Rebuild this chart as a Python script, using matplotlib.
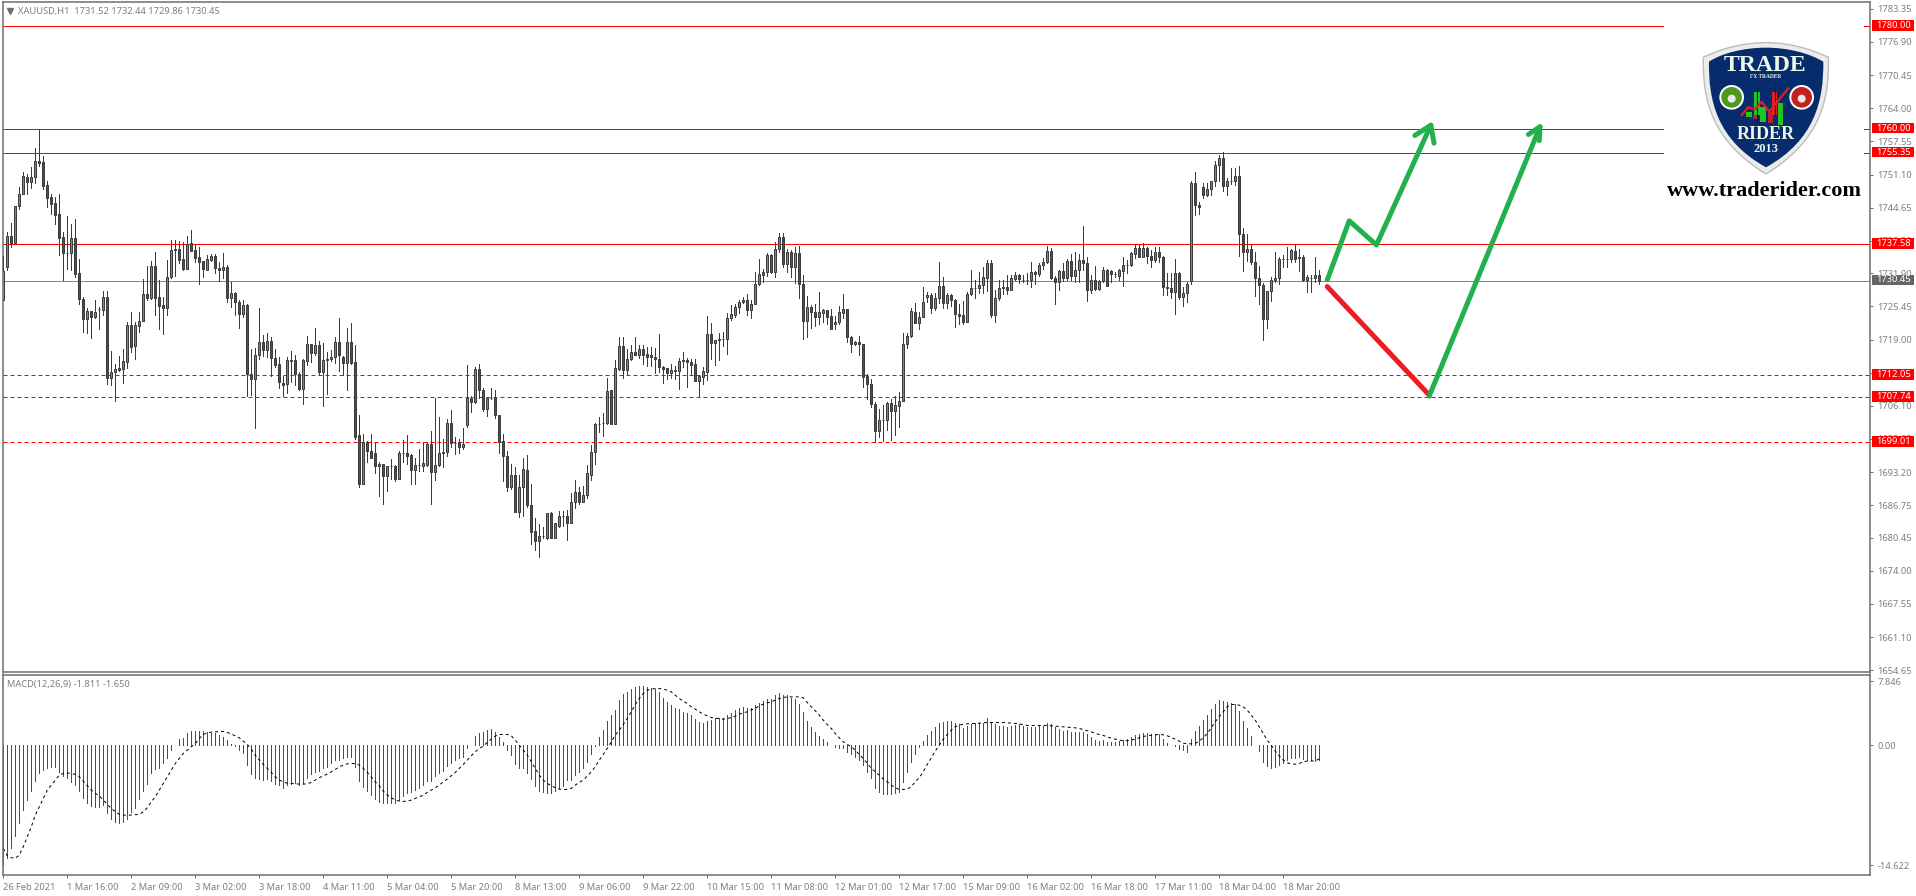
import numpy as np
import matplotlib
matplotlib.use('Agg')
import matplotlib.pyplot as plt
from matplotlib.path import Path
from matplotlib.patches import PathPatch, Rectangle, Circle
from matplotlib.transforms import IdentityTransform

plt.rcParams['font.family'] = ['Noto Sans', 'DejaVu Sans']

W, H = 1916, 896

opens = [
    1726.7,1733.2,1739.1,1737.8,1744.9,1747.4,1750.7,1749.7,1750.6,1753.7,
    1753.5,1749.0,1746.7,1745.5,1743.4,1738.9,1735.8,1735.8,1738.7,1731.9,
    1726.8,1722.9,1724.5,1723.4,1724.9,1724.8,1727.2,1711.6,1712.6,1713.4,
    1713.3,1714.7,1721.8,1717.8,1721.7,1722.7,1727.8,1727.1,1733.4,1727.2,
    1725.7,1725.2,1731.2,1736.7,1736.7,1734.6,1732.8,1737.8,1736.4,1735.0,
    1734.2,1732.6,1734.5,1735.2,1733.0,1732.5,1733.2,1727.1,1728.0,1726.4,
    1724.0,1725.8,1712.2,1711.4,1715.9,1718.5,1717.0,1718.8,1715.5,1714.2,
    1710.5,1710.3,1714.9,1715.1,1712.2,1709.4,1714.9,1718.1,1716.4,1717.9,
    1712.7,1715.1,1715.3,1715.7,1718.6,1715.7,1714.5,1718.6,1714.6,1700.4,
    1690.9,1699.0,1697.4,1697.0,1694.3,1694.7,1692.5,1694.3,1694.3,1691.9,
    1696.9,1696.9,1696.5,1693.7,1694.5,1694.4,1694.6,1698.6,1693.3,1694.5,
    1697.0,1697.2,1702.7,1698.9,1699.0,1698.0,1702.4,1707.7,1706.8,1713.2,
    1709.1,1705.5,1707.6,1707.6,1704.4,1699.2,1696.3,1690.4,1692.6,1685.5,
    1690.4,1693.7,1686.9,1681.7,1679.9,1680.7,1680.4,1685.2,1680.4,1682.8,
    1684.6,1684.6,1683.4,1687.4,1689.3,1687.4,1688.8,1692.7,1697.2,1702.6,
    1702.7,1702.7,1709.1,1702.6,1713.2,1717.7,1713.0,1715.3,1716.5,1716.0,
    1717.1,1716.2,1716.0,1715.7,1715.3,1713.6,1713.4,1712.4,1712.8,1712.8,
    1714.9,1715.1,1714.6,1714.2,1711.0,1711.8,1712.6,1720.0,1718.4,1718.9,
    1719.2,1719.2,1723.2,1723.8,1725.3,1726.7,1726.6,1724.8,1726.0,1729.9,
    1731.6,1732.1,1735.4,1732.2,1736.7,1738.9,1733.6,1736.0,1733.2,1735.8,
    1729.9,1722.7,1725.3,1724.3,1723.4,1724.2,1724.7,1723.6,1722.1,1722.4,
    1724.2,1724.9,1719.4,1718.2,1718.6,1718.1,1711.9,1710.3,1706.4,1701.3,
    1703.3,1703.3,1706.6,1705.0,1706.1,1707.0,1718.1,1719.7,1724.4,1722.3,
    1723.4,1727.2,1727.6,1725.2,1727.1,1729.4,1726.1,1727.6,1726.6,1723.9,
    1723.7,1722.5,1727.8,1729.0,1729.0,1729.7,1731.0,1733.9,1723.8,1727.1,
    1729.2,1729.2,1728.7,1730.8,1731.6,1730.6,1730.6,1730.5,1732.1,1731.7,
    1733.5,1734.0,1736.2,1731.0,1730.1,1732.3,1731.0,1734.2,1731.3,1732.5,
    1734.4,1733.8,1728.7,1730.5,1728.9,1730.3,1732.5,1732.3,1731.7,1731.4,
    1732.4,1733.5,1733.5,1735.7,1736.8,1735.1,1736.8,1735.2,1734.4,1736.0,
    1735.0,1729.3,1729.1,1728.2,1731.9,1727.2,1728.0,1730.3,1749.4,1745.1,
    1748.6,1747.2,1748.2,1749.8,1752.9,1754.3,1748.8,1749.8,1749.9,1750.8,
    1739.5,1736.1,1736.6,1734.0,1731.0,1729.6,1722.9,1728.4,1730.5,1730.9,
    1734.6,1734.6,1734.6,1736.2,1735.0,1735.0,1730.5,1731.0,1730.9,1731.52,
]
highs = [
    1735.2,1739.9,1741.6,1744.9,1748.6,1751.6,1751.2,1752.5,1756.3,1759.8,
    1754.7,1749.8,1747.4,1746.8,1747.4,1739.9,1743.0,1741.4,1742.4,1734.7,
    1727.3,1725.1,1724.5,1726.7,1725.3,1728.4,1728.4,1716.8,1714.2,1715.8,
    1717.2,1722.4,1724.3,1722.4,1724.3,1730.8,1733.3,1734.2,1736.0,1730.5,
    1727.3,1734.5,1738.3,1738.3,1738.1,1738.0,1739.1,1740.4,1737.5,1737.0,
    1734.2,1735.4,1735.6,1735.6,1734.0,1735.8,1733.5,1730.2,1728.2,1726.6,
    1726.6,1725.9,1717.2,1717.3,1725.1,1719.9,1720.2,1719.4,1717.2,1715.7,
    1711.9,1715.7,1716.7,1716.0,1712.7,1715.3,1719.7,1718.1,1721.2,1718.8,
    1718.3,1716.5,1717.0,1719.4,1723.1,1715.8,1721.2,1722.3,1717.9,1704.3,
    1700.7,1699.3,1700.6,1699.0,1695.1,1694.8,1694.4,1695.7,1694.5,1697.3,
    1699.4,1700.4,1696.7,1695.9,1697.7,1699.0,1699.0,1701.2,1707.7,1703.9,
    1699.6,1703.5,1705.3,1700.0,1699.6,1701.8,1714.0,1708.0,1713.6,1714.2,
    1709.6,1707.8,1709.6,1709.1,1704.4,1700.6,1697.4,1694.7,1694.2,1692.6,
    1695.9,1696.5,1690.8,1684.3,1683.1,1682.5,1685.2,1685.5,1683.4,1685.6,
    1685.6,1685.8,1689.1,1691.6,1690.4,1690.6,1694.5,1698.4,1702.7,1703.9,
    1704.8,1711.5,1709.1,1715.0,1719.5,1719.5,1717.1,1718.0,1719.5,1718.0,
    1718.0,1717.5,1717.5,1717.3,1720.0,1713.9,1713.5,1714.2,1713.9,1715.4,
    1716.5,1715.4,1715.3,1715.3,1712.1,1713.6,1723.6,1722.2,1719.0,1720.3,
    1720.4,1724.1,1725.8,1725.9,1726.7,1727.2,1727.9,1726.7,1732.1,1734.6,
    1732.8,1735.8,1735.6,1737.9,1739.7,1739.7,1736.6,1736.4,1737.0,1737.2,
    1731.6,1727.5,1725.7,1726.0,1728.2,1725.0,1724.8,1724.9,1723.6,1725.5,
    1727.9,1725.0,1719.7,1718.7,1719.7,1718.1,1712.3,1711.3,1706.9,1705.4,
    1706.2,1706.9,1707.4,1708.1,1708.8,1720.3,1720.3,1725.1,1726.2,1724.4,
    1729.2,1728.2,1728.0,1728.0,1734.1,1731.2,1728.0,1727.9,1726.8,1725.9,
    1726.5,1728.2,1732.6,1730.6,1732.1,1733.1,1734.4,1734.4,1728.7,1730.5,
    1730.5,1731.6,1731.5,1732.1,1731.7,1731.6,1731.9,1734.1,1732.3,1733.9,
    1734.8,1737.2,1736.8,1731.3,1732.5,1733.8,1734.6,1735.7,1736.0,1735.7,
    1741.1,1735.1,1731.5,1733.3,1730.5,1733.1,1732.7,1732.5,1732.1,1732.7,
    1735.0,1734.5,1736.0,1737.5,1737.5,1737.8,1737.0,1736.4,1737.0,1737.0,
    1735.2,1731.9,1731.9,1734.6,1732.1,1729.2,1730.1,1749.8,1751.6,1745.7,
    1749.4,1749.4,1749.8,1753.7,1754.9,1755.5,1750.4,1752.4,1752.4,1752.7,
    1740.7,1739.5,1737.4,1736.0,1733.3,1730.0,1728.4,1731.1,1736.0,1735.1,
    1735.4,1737.1,1736.6,1737.4,1736.7,1735.4,1731.5,1731.5,1735.1,1732.44,
]
lows = [
    1726.7,1732.5,1737.1,1737.8,1744.3,1747.3,1747.4,1748.5,1749.5,1752.8,
    1748.2,1744.8,1743.4,1741.5,1735.5,1730.6,1732.7,1732.5,1731.2,1725.9,
    1720.5,1720.3,1719.3,1723.1,1721.0,1723.8,1710.3,1710.2,1707.1,1712.9,
    1710.5,1713.4,1716.6,1715.2,1720.5,1722.6,1726.6,1726.8,1723.8,1721.0,
    1720.1,1723.8,1731.0,1731.4,1733.8,1732.5,1732.7,1736.2,1734.0,1729.9,
    1731.2,1732.5,1734.3,1731.9,1730.3,1730.9,1726.4,1725.4,1723.8,1721.2,
    1723.4,1708.1,1708.2,1701.8,1715.3,1715.8,1715.7,1712.0,1713.7,1709.5,
    1708.0,1708.6,1710.7,1710.2,1709.2,1706.5,1714.0,1714.7,1716.0,1712.1,
    1706.1,1708.4,1714.9,1714.4,1712.8,1712.1,1709.2,1714.2,1699.6,1690.4,
    1690.8,1695.2,1696.0,1693.1,1688.6,1687.1,1689.6,1691.9,1691.5,1691.8,
    1695.2,1694.8,1690.8,1690.9,1693.4,1693.5,1694.3,1687.1,1691.7,1694.3,
    1694.2,1696.4,1698.0,1696.7,1697.0,1697.8,1702.0,1704.9,1706.6,1707.7,
    1705.1,1704.1,1707.4,1703.7,1696.9,1691.5,1689.5,1689.9,1685.5,1684.5,
    1684.7,1686.5,1679.3,1678.0,1676.7,1680.4,1680.2,1680.4,1680.4,1682.5,
    1682.7,1680.0,1683.4,1686.2,1687.1,1687.3,1688.1,1691.7,1694.8,1701.0,
    1700.2,1702.5,1702.6,1702.6,1713.0,1711.6,1712.3,1715.0,1716.0,1715.5,
    1714.3,1713.8,1713.9,1712.5,1712.7,1710.6,1711.4,1711.6,1711.4,1709.4,
    1713.6,1709.8,1712.3,1711.0,1708.1,1710.4,1711.1,1715.3,1714.0,1715.0,
    1717.8,1716.1,1722.8,1723.3,1724.2,1726.1,1723.8,1723.1,1726.0,1729.7,
    1730.1,1731.4,1732.0,1731.2,1736.1,1733.2,1732.2,1731.2,1730.0,1727.1,
    1719.2,1719.4,1721.2,1721.7,1722.0,1722.4,1722.0,1721.1,1721.0,1722.1,
    1723.1,1718.6,1716.6,1718.0,1716.0,1709.7,1707.4,1705.8,1699.1,1700.1,
    1699.3,1701.4,1699.5,1700.5,1701.9,1707.0,1717.3,1719.5,1722.3,1721.1,
    1723.4,1726.4,1724.1,1724.7,1726.1,1725.2,1725.2,1725.6,1721.5,1722.1,
    1722.1,1722.4,1727.6,1727.1,1728.0,1728.0,1728.5,1723.3,1722.5,1726.7,
    1727.8,1727.9,1728.6,1730.6,1730.0,1730.1,1729.9,1729.3,1729.9,1731.3,
    1732.8,1733.9,1730.7,1726.0,1728.7,1730.3,1730.6,1730.6,1730.2,1730.2,
    1732.6,1726.5,1728.0,1728.6,1728.6,1730.2,1729.4,1730.2,1731.2,1730.5,
    1729.4,1731.9,1733.4,1734.8,1735.0,1735.0,1733.9,1733.1,1734.1,1734.1,
    1727.7,1727.7,1727.0,1723.9,1726.8,1725.6,1726.4,1729.9,1743.3,1743.5,
    1746.6,1747.0,1747.2,1748.8,1749.9,1747.9,1747.2,1749.3,1749.0,1735.3,
    1732.4,1734.2,1733.6,1727.5,1726.0,1719.0,1721.3,1726.5,1730.2,1729.9,
    1733.1,1733.1,1734.0,1734.0,1732.3,1730.4,1728.3,1728.3,1730.2,1729.86,
]
closes = [
    1732.4,1739.1,1737.8,1744.9,1747.4,1750.9,1749.7,1750.6,1753.7,1753.4,
    1748.9,1746.6,1745.4,1743.3,1738.8,1735.8,1735.8,1738.7,1731.8,1726.8,
    1722.9,1724.5,1723.4,1724.3,1724.9,1727.2,1711.6,1712.6,1713.2,1713.1,
    1714.8,1721.8,1717.6,1721.8,1722.7,1727.8,1727.1,1733.4,1727.1,1725.6,
    1725.2,1731.2,1736.5,1736.5,1734.5,1732.7,1737.6,1736.3,1734.9,1734.0,
    1732.8,1734.6,1735.2,1733.0,1732.5,1733.2,1727.1,1728.0,1726.4,1724.0,
    1725.8,1712.2,1711.4,1715.9,1718.5,1717.0,1718.8,1715.5,1714.0,1710.8,
    1710.2,1715.0,1715.1,1712.2,1709.4,1715.0,1718.1,1716.4,1717.9,1712.7,
    1715.1,1715.3,1715.7,1718.6,1715.9,1714.5,1718.6,1714.5,1700.1,1690.9,
    1699.0,1697.4,1696.0,1694.3,1694.7,1692.5,1694.3,1694.3,1691.9,1696.9,
    1696.9,1696.4,1693.7,1694.5,1694.5,1694.9,1698.6,1693.3,1694.5,1697.0,
    1697.2,1702.7,1698.8,1698.9,1698.0,1698.6,1707.6,1706.8,1713.2,1709.1,
    1705.5,1707.6,1707.6,1704.4,1699.1,1696.3,1690.4,1692.6,1685.5,1690.4,
    1693.9,1686.9,1681.6,1679.9,1680.7,1680.7,1685.2,1680.4,1683.4,1684.6,
    1684.6,1683.4,1687.3,1689.3,1687.4,1688.7,1693.0,1697.2,1702.5,1702.6,
    1702.7,1708.9,1702.6,1713.4,1717.7,1713.0,1715.3,1716.5,1716.0,1717.1,
    1716.0,1715.7,1715.7,1715.3,1713.6,1713.3,1712.4,1713.0,1713.0,1714.9,
    1715.1,1714.7,1714.1,1711.0,1711.9,1712.8,1720.0,1718.4,1719.0,1719.2,
    1719.2,1723.1,1723.9,1725.3,1726.4,1726.4,1724.8,1726.0,1729.9,1731.7,
    1732.1,1735.4,1732.1,1736.7,1738.9,1733.6,1736.0,1733.2,1735.8,1729.9,
    1722.7,1725.3,1724.3,1723.4,1724.3,1724.7,1723.4,1721.1,1722.5,1724.3,
    1724.9,1719.4,1718.2,1718.6,1718.1,1711.8,1710.3,1706.4,1701.3,1703.3,
    1703.3,1706.6,1705.0,1706.2,1707.0,1718.1,1719.7,1724.6,1722.3,1723.4,
    1726.3,1727.6,1725.2,1727.1,1729.4,1726.1,1727.6,1726.6,1723.9,1723.5,
    1722.5,1727.8,1729.0,1729.0,1729.6,1731.1,1733.9,1723.8,1727.1,1729.0,
    1729.0,1728.7,1730.9,1731.6,1730.7,1730.6,1730.6,1732.1,1731.7,1733.5,
    1734.1,1736.2,1731.0,1730.1,1732.3,1731.0,1734.2,1731.3,1732.5,1734.4,
    1733.8,1728.7,1730.5,1728.9,1730.4,1732.5,1729.5,1731.7,1731.7,1732.5,
    1733.5,1733.5,1735.8,1736.8,1735.0,1736.8,1735.2,1734.4,1736.0,1735.0,
    1729.3,1729.1,1728.2,1731.9,1727.2,1728.0,1729.8,1749.4,1745.1,1744.7,
    1747.2,1748.2,1749.8,1752.9,1754.3,1748.8,1749.8,1749.8,1750.8,1739.5,
    1736.1,1736.6,1734.0,1731.0,1729.6,1722.9,1728.4,1730.5,1730.9,1734.6,
    1734.6,1734.6,1736.4,1734.7,1734.8,1730.5,1731.1,1731.0,1731.5,1730.45,
]

macd_hist = [
    -14.59,-13.78,-12.48,-11.06,-9.43,-7.89,-6.67,-5.57,-4.35,-3.33,
    -3.01,-2.80,-2.64,-2.68,-3.29,-3.74,-4.02,-4.43,-4.84,-5.57,
    -6.46,-7.07,-7.36,-7.48,-7.48,-7.28,-8.21,-8.98,-9.31,-9.43,
    -9.31,-8.98,-8.09,-7.68,-6.59,-5.57,-4.76,-3.33,-2.89,-2.80,
    -2.20,-1.59,-0.57,0.02,0.73,0.85,1.46,1.79,1.79,1.79,
    1.75,1.67,1.54,1.46,1.26,1.06,0.65,0.12,-0.08,-0.57,
    -0.98,-2.40,-3.50,-3.94,-4.11,-4.19,-4.11,-4.35,-4.72,-4.84,
    -5.16,-4.84,-4.72,-4.63,-4.84,-4.63,-3.94,-3.54,-3.29,-3.09,
    -2.80,-2.60,-2.20,-1.79,-1.79,-1.59,-1.42,-1.42,-2.60,-4.35,
    -5.04,-5.57,-6.06,-6.59,-6.87,-7.07,-7.07,-6.99,-7.07,-6.67,
    -6.14,-5.85,-5.65,-5.45,-5.16,-4.84,-4.35,-4.31,-3.70,-3.41,
    -3.13,-2.52,-2.20,-1.79,-1.50,-1.38,-0.37,0.02,1.14,1.46,
    1.67,1.87,1.99,1.67,1.06,0.45,-0.57,-1.18,-2.32,-2.72,
    -2.80,-3.41,-4.11,-4.92,-5.57,-5.73,-5.81,-5.77,-5.57,-5.24,
    -4.92,-4.23,-4.23,-3.62,-3.21,-2.72,-2.07,-1.06,-0.08,1.06,
    1.87,2.97,3.70,4.31,5.53,6.34,6.54,6.95,7.15,7.24,
    7.24,7.15,7.03,6.87,6.54,
    5.81,5.33,4.92,4.59,4.39,4.11,3.90,3.70,3.21,2.89,
    2.68,2.97,3.09,3.29,3.37,3.29,3.70,3.90,4.31,4.59,
    4.72,4.59,4.59,4.92,5.20,5.45,5.73,5.73,6.14,6.38,
    6.14,6.14,5.85,5.65,5.00,4.11,3.01,2.28,1.67,1.14,
    0.77,0.41,0.02,-0.24,-0.28,-0.37,-0.77,-1.10,-1.38,-1.79,
    -2.40,-3.21,-4.02,-5.16,-5.73,-5.98,-5.98,-5.98,-5.85,-5.65,
    -4.43,-3.21,-1.99,-1.06,-0.16,0.53,1.26,1.79,2.28,2.80,
    2.89,2.97,2.97,2.68,2.56,2.15,2.36,2.56,2.68,2.80,
    2.80,3.29,2.80,2.56,2.40,2.40,2.28,2.40,2.48,2.56,
    2.40,2.28,2.28,2.28,2.36,2.40,2.68,2.56,2.28,1.99,
    1.79,1.87,1.67,1.67,1.67,1.67,1.38,1.06,0.65,0.57,
    0.65,0.45,0.41,0.45,0.53,0.65,0.73,1.06,1.26,1.34,
    1.46,1.46,1.38,1.34,1.34,0.77,0.33,0.02,-0.08,-0.45,
    -0.57,-0.77,0.77,1.79,2.40,3.09,3.70,4.43,5.00,5.53,
    5.41,5.33,5.24,5.00,4.19,2.97,2.15,1.14,0.08,-0.69,
    -1.99,-2.48,-2.72,-2.64,-2.40,-2.20,-1.79,-1.59,-1.50,-1.38,
    -1.67,-1.79,-1.79,-1.87,-1.811,
]
macd_signal = [
    -12.56,-13.46,-13.70,-13.78,-13.37,-12.36,-11.14,-9.92,-8.50,-7.48,
    -6.46,-5.45,-4.84,-4.23,-3.62,-3.41,-3.37,-3.41,-3.54,-3.82,
    -4.35,-4.92,-5.45,-5.85,-6.14,-6.67,-7.20,-7.68,-8.09,-8.41,
    -8.50,-8.50,-8.50,-8.46,-8.41,-8.09,-7.60,-6.87,-6.26,-5.45,
    -4.63,-3.82,-3.01,-2.20,-1.59,-0.98,-0.57,-0.16,0.24,0.85,
    1.34,1.54,1.63,1.67,1.67,1.71,1.59,1.38,1.18,0.93,
    0.53,0.12,-0.45,-1.18,-1.79,-2.32,-2.80,-3.29,-3.82,-4.23,
    -4.43,-4.63,-4.63,-4.67,-4.72,-4.72,-4.67,-4.51,-4.23,-3.94,
    -3.70,-3.50,-3.21,-2.93,-2.60,-2.40,-2.24,-2.20,-2.20,-2.40,
    -2.80,-3.29,-3.82,-4.43,-4.92,-5.57,-6.06,-6.38,-6.67,-6.79,
    -6.83,-6.79,-6.67,-6.46,-6.26,-6.06,-5.73,-5.45,-5.16,-4.84,
    -4.43,-4.11,-3.70,-3.29,-2.80,-2.32,-1.79,-1.26,-0.77,-0.37,
    -0.08,0.37,0.77,1.14,1.34,1.34,1.34,1.18,0.65,0.04,
    -0.57,-1.18,-1.99,-2.80,-3.62,-4.23,-4.63,-4.92,-5.16,-5.33,
    -5.37,-5.37,-5.24,-4.84,-4.51,-4.23,-3.74,-3.21,-2.60,-1.79,
    -1.10,-0.37,0.45,1.26,1.87,2.56,3.29,4.11,5.00,5.73,
    6.34,6.75,6.87,6.95,6.95,
    6.87,6.75,6.54,6.14,5.73,5.41,5.12,4.72,4.43,4.11,
    3.82,3.62,3.41,3.33,3.29,3.21,3.29,3.41,3.58,3.82,
    3.98,4.11,4.35,4.51,4.84,5.04,5.20,5.33,5.53,5.73,
    5.85,5.93,5.93,5.93,5.93,5.81,5.24,4.72,4.23,3.70,
    3.09,2.56,2.07,1.46,0.93,0.45,0.12,-0.16,-0.57,-1.10,
    -1.59,-2.20,-2.80,-3.21,-3.62,-4.11,-4.43,-4.84,-5.16,-5.37,
    -5.37,-5.33,-5.04,-4.43,-3.94,-3.21,-2.32,-1.50,-0.69,0.04,
    0.77,1.34,1.87,2.28,2.48,2.60,2.64,2.68,2.68,2.72,
    2.76,2.80,2.80,2.80,2.80,2.80,2.76,2.72,2.68,2.64,
    2.52,2.44,2.44,2.44,2.44,2.44,2.44,2.40,2.36,2.32,
    2.28,2.24,2.20,2.15,2.07,1.95,1.79,1.67,1.46,1.34,
    1.22,1.06,0.89,0.77,0.65,0.57,0.57,0.65,0.77,0.93,
    1.10,1.18,1.26,1.30,1.34,1.30,1.18,0.98,0.77,0.53,
    0.28,0.20,0.20,0.24,0.53,0.93,1.46,2.15,2.89,3.50,
    4.11,4.72,5.00,5.00,4.92,4.72,4.31,3.70,3.09,2.28,
    1.46,0.65,0.04,-0.69,-1.26,-1.79,-2.11,-2.28,-2.28,-2.20,
    -1.99,-1.91,-1.91,-1.87,-1.65,
]

time_labels = ['26 Feb 2021', '1 Mar 16:00', '2 Mar 09:00', '3 Mar 02:00', '3 Mar 18:00',
               '4 Mar 11:00', '5 Mar 04:00', '5 Mar 20:00', '8 Mar 13:00', '9 Mar 06:00',
               '9 Mar 22:00', '10 Mar 15:00', '11 Mar 08:00', '12 Mar 01:00', '12 Mar 17:00',
               '15 Mar 09:00', '16 Mar 02:00', '16 Mar 18:00', '17 Mar 11:00', '18 Mar 04:00',
               '18 Mar 20:00']
time_label_step = 16
price_ticks = [1783.35, 1776.90, 1770.45, 1764.00, 1757.55, 1751.10, 1744.65, 1738.20, 1731.90,
               1725.45, 1719.00, 1712.55, 1706.10, 1699.65, 1693.20, 1686.75, 1680.45, 1674.00,
               1667.55, 1661.10, 1654.65]
macd_ticks = [7.846, 0.0, -14.622]
solid_levels = [1780.00, 1760.00, 1755.35, 1737.58]
dashed_levels = [1712.05, 1707.74, 1699.01]
last_price = 1730.45

# hand drawn arrows, (bar number, price)
green_path = [(331.0, 1730.6), (336.5, 1742.1), (343.3, 1737.4), (356.9, 1760.7)]
green_head = [(352.9, 1758.7), (356.9, 1760.7), (357.7, 1757.2)]
red_path = [(331.0, 1729.3), (356.5, 1708.2)]
green2_path = [(356.5, 1708.0), (384.2, 1760.4)]
green2_head = [(381.3, 1758.9), (384.2, 1760.4), (384.0, 1757.7)]

GREY = '#6e6e6e'
TEXT = '#7a7f85'
CANDLE_EDGE = '#3c3c3c'
PX = 0.72
FS = 6.7


def pane(left, top, right, bottom):
    return fig.add_axes([left / W, 1 - bottom / H, (right - left) / W, (bottom - top) / H])


def price_box(ax, price, label, color):
    y = ax.transData.transform((0, price))[1]
    fig.add_artist(Rectangle((1871.5, y - 4.5), 42.5, 10.5, transform=IdentityTransform(),
                             fc=color, ec='none', zorder=5))
    fig.text(1876 / W, (y + 0.7) / H, label, color='white', fontsize=FS,
             va='center', ha='left', zorder=6)


def style_pane(ax):
    for s in ax.spines.values():
        s.set_color(GREY)
        s.set_linewidth(1.1)
    ax.yaxis.tick_right()
    ax.tick_params(axis='y', length=2.2, width=PX, color=GREY, labelcolor=TEXT, labelsize=FS, pad=3)


fig = plt.figure(figsize=(W / 100, H / 100), dpi=100, facecolor='white')

ax = pane(2.5, 2, 1870, 672.3)
macd = pane(2.5, 674.5, 1870, 875.3)

x = np.arange(len(opens))
o = np.array(opens)
c = np.array(closes)
up = c >= o
bottom = np.minimum(o, c)
height = np.abs(c - o)

ax.vlines(x, lows, highs, color=CANDLE_EDGE, lw=PX, antialiased=False, zorder=3)
ax.bar(x[up], height[up], bottom=bottom[up], width=0.5, color='#12d012',
       edgecolor=CANDLE_EDGE, linewidth=PX, zorder=4)
ax.bar(x[~up], height[~up], bottom=bottom[~up], width=0.5, color='#e01010',
       edgecolor=CANDLE_EDGE, linewidth=PX, zorder=4)

for level in solid_levels:
    ax.axhline(level, color='red', lw=PX, zorder=2)
for level in dashed_levels:
    ax.axhline(level, color='red', lw=PX, ls=(0, (4, 3)), zorder=2)
ax.axhline(last_price, color='#778899', lw=PX, zorder=2)

for path, color in [(red_path, '#ed1c24'), (green_path, '#22b14c'), (green_head, '#22b14c'),
                    (green2_path, '#22b14c'), (green2_head, '#22b14c')]:
    ax.plot(*zip(*path), color=color, lw=3.6, solid_capstyle='round', solid_joinstyle='round', zorder=6)

ax.set_xlim(-0.2, 466.7)
ax.set_ylim(1654.26, 1784.67)
ax.set_xticks([])
ax.set_yticks(price_ticks)
ax.set_yticklabels(['%.2f' % p for p in price_ticks])
style_pane(ax)

ax.plot([0.004], [0.9865], marker='v', ms=4.5, color=GREY, transform=ax.transAxes, zorder=7)
ax.text(0.0082, 0.9855, 'XAUUSD,H1  1731.52 1732.44 1729.86 1730.45', transform=ax.transAxes,
        color=TEXT, fontsize=FS, va='center', ha='left')

macd.vlines(x, 0, macd_hist, color='red', lw=PX, antialiased=False)
macd.plot(x, macd_signal, color='black', lw=PX, ls=(0, (3, 3)))
macd.set_xlim(-0.2, 466.7)
macd.set_ylim(-15.85, 8.66)
macd.set_yticks(macd_ticks)
macd.set_yticklabels(['7.846', '0.00', '-14.622'])
macd.set_xticks(np.arange(len(time_labels)) * time_label_step)
macd.set_xticklabels(time_labels, ha='left')
macd.tick_params(axis='x', length=2.2, width=PX, color=GREY, labelcolor=TEXT, labelsize=FS, pad=3)
style_pane(macd)
macd.text(0.0025, 0.948, 'MACD(12,26,9) -1.811 -1.650', transform=macd.transAxes,
          color=TEXT, fontsize=FS, va='center', ha='left')

for level in solid_levels + dashed_levels:
    price_box(ax, level, '%.2f' % level, 'red')
price_box(ax, last_price, '%.2f' % last_price, '#666666')

# logo, drawn in a little axes over the top right corner
logo = fig.add_axes([1640 / W, 1 - 230 / H, 230 / W, 230 / H], facecolor='none')
logo.set_xlim(0, 690)
logo.set_ylim(690, 0)
logo.axis('off')
logo.add_patch(Rectangle((72, 30), 600, 590, fc='white', ec='none'))


def shield(top, ltop, lx, bot, rx, rtop, **kw):
    cx = 378
    verts = [(cx, top), (cx - 68, top), (cx - 133, top + 17), ltop,
             (lx, 300), (lx + 25, 420), (cx, bot),
             (rx - 25, 420), (rx, 300), rtop,
             (cx + 130, top + 17), (cx + 67, top), (cx, top)]
    codes = [Path.MOVETO] + [Path.CURVE4] * 12
    logo.add_patch(PathPatch(Path(verts, codes), **kw))


shield(128, (190, 172), 188, 522, 568, (565, 172), fc='#ececec', ec='#bdbdbd', lw=1)
shield(143, (207, 185), 205, 502, 551, (550, 185), fc='#062c6e', ec='none')

SERIF = ['Liberation Serif', 'DejaVu Serif']
logo.text(376, 197, 'TRADE', family=SERIF, weight='bold', fontsize=17, color='#eef8e6', ha='center', va='center')
logo.text(378, 230, 'FX TRADER', family=SERIF, weight='bold', fontsize=4, color='#eef8e6', ha='center', va='center')
logo.text(378, 402, 'RIDER', family=SERIF, weight='bold', fontsize=13, color='#eef8e6', ha='center', va='center')
logo.text(378, 447, '2013', family=SERIF, weight='bold', fontsize=9, color='#eef8e6', ha='center', va='center')
logo.text(372, 572, 'www.traderider.com', family=SERIF, weight='bold', fontsize=16, color='black', ha='center', va='center')

logo.add_patch(Circle((275, 292), 37, fc='white', ec='none'))
logo.add_patch(Circle((275, 292), 31, fc='#4f9a1c', ec='none'))
logo.add_patch(Circle((485, 292), 37, fc='white', ec='none'))
logo.add_patch(Circle((485, 292), 31, fc='#c0221f', ec='none'))
logo.add_patch(Circle((275, 296), 12, fc='#e8e8e8', ec='none'))
logo.add_patch(Circle((485, 296), 12, fc='#f4e0e0', ec='none'))
for xc, y0, y1, col in [(327, 335, 352, '#23c323'), (346, 345, 358, '#b3262a'), (351, 275, 345, '#23c323'),
                        (369, 320, 365, '#23c323'), (392, 335, 370, '#b3262a'), (404, 275, 345, '#e02020'),
                        (421, 308, 375, '#23c323')]:
    logo.add_patch(Rectangle((xc - 8, y0), 16, y1 - y0, fc=col, ec='none'))
logo.plot([351, 351], [255, 372], color='#1a1a1a', lw=0.7)
logo.plot([404, 404], [255, 345], color='#1a1a1a', lw=0.7)
logo.plot([305, 325, 345, 365, 388, 445], [345, 322, 328, 305, 335, 265], color='#e02020', lw=1.6)

fig.savefig('out.png', dpi=100, facecolor='white')
